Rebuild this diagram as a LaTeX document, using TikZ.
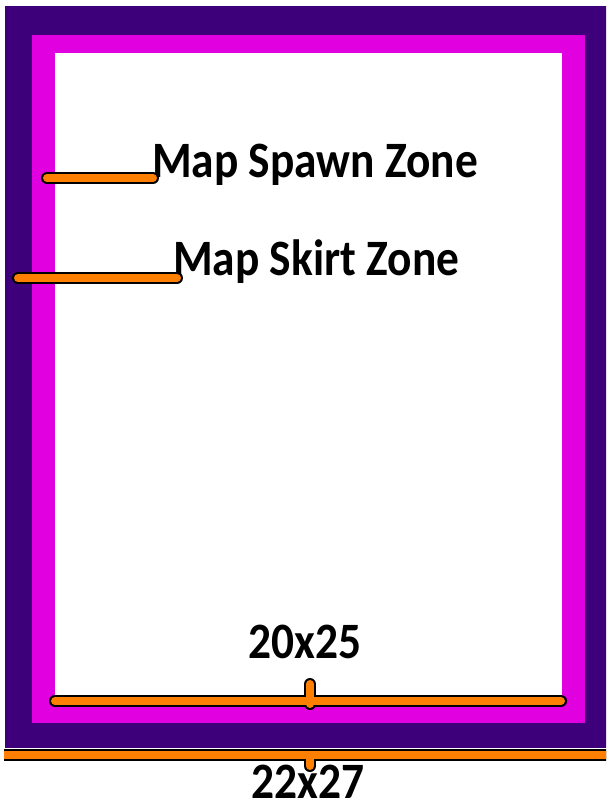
\documentclass[tikz,border=0pt]{standalone}
\usepackage{fontspec}
\setmainfont{Carlito}
\definecolor{zonepurple}{RGB}{62,0,122}
\definecolor{zonemagenta}{RGB}{224,0,224}
\definecolor{barorange}{RGB}{255,128,0}
\newcommand{\lbltext}[1]{\scalebox{0.89}[1]{#1}}
\begin{document}
\begin{tikzpicture}[x=1pt,y=-1pt,
  lbl/.style={inner sep=0pt,font=\bfseries\fontsize{51}{51}\selectfont,text=black},
  barout/.style={draw=black,line width=12pt,line cap=round},
  barin/.style={draw=barorange,line width=8pt,line cap=round},
  barouts/.style={draw=black,line width=12pt,line cap=butt},
  barins/.style={draw=barorange,line width=8pt,line cap=butt}]
\useasboundingbox (0,0) rectangle (606,804);
\fill[white] (0,0) rectangle (606,804);
\begin{scope}
\clip (0,0) rectangle (606,804);
% zones
\fill[zonepurple] (5,6) rectangle (610,748);
\fill[zonemagenta] (32,35) rectangle (585,723);
\fill[white] (55,53) rectangle (562,699);
% labels
\node[lbl,anchor=base west] (spawn) at (152,177) {\lbltext{Map Spawn Zone}};
\node[lbl,anchor=base west] (skirt) at (173,275) {\lbltext{Map Skirt Zone}};
\node[lbl,anchor=base] (inner) at (305,658) {\lbltext{20x25}};
\node[lbl,anchor=base] (outer) at (308,798) {\lbltext{22x27}};
% anchor coordinates
\coordinate (spL) at (47,178);
\coordinate (spR) at (153,178);
\coordinate (skL) at (18,278);
\coordinate (skR) at (177,278);
\coordinate (inL) at (55,701);
\coordinate (inR) at (561,701);
\coordinate (inT) at (310,684);
\coordinate (inB) at (310,704);
\coordinate (outL) at (4,755);
\coordinate (outR) at (612,755);
\coordinate (outT) at (310,756);
\coordinate (outB) at (310,766);
% outlines
\draw[barout] (spL) -- (spR);
\draw[barout] (skL) -- (skR);
\draw[barout] (inL) -- (inR);
\draw[barout] (inT) -- (inB);
\draw[barouts] (outL) -- (outR);
\draw[barout] (outT) -- (outB);
% orange fills
\draw[barin] (spL) -- (spR);
\draw[barin] (skL) -- (skR);
\draw[barin] (inL) -- (inR);
\draw[barin] (inT) -- (inB);
\draw[barins] (outL) -- (outR);
\draw[barin] (outT) -- (outB);
\end{scope}
\end{tikzpicture}
\end{document}
